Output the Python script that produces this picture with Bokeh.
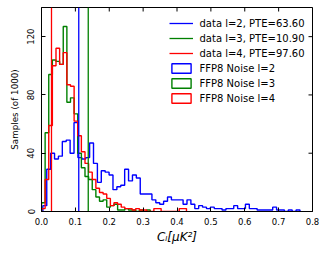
import numpy as np
from bokeh.plotting import figure
from bokeh.models import (Legend, LegendItem, FixedTicker, Range1d, PrintfTickFormatter)
from bokeh.embed import file_html
from bokeh.resources import INLINE

# ---------------- data ----------------
multipoles = [2, 3, 4]
pte_values = ["63.60", "10.90", "97.60"]
data_values = [0.110, 0.138, 0.0295]
series_colors = ["#0000ff", "#008000", "#ff0000"]

# FFP8 noise histograms (counts per bin)
l2_bin_start, l2_bin_width = 0.004, 0.0115
l2_counts = [4, 29, 40, 36, 38, 48, 49, 40, 61, 37, 36, 37, 47, 33, 20, 28, 27, 25,
             15, 17, 18, 29, 21, 25, 23, 12, 12, 12, 8, 6, 5, 7, 10, 8, 8, 8, 5, 8,
             5, 2, 4, 3, 2, 3, 2, 2, 1, 2, 2, 4, 2, 2, 5, 2, 2, 1, 1, 1, 1, 3, 1, 1,
             0, 1, 0, 1]

l3_bin_start, l3_bin_width = 0.0, 0.0107
l3_counts = [6, 54, 94, 104, 103, 101, 127, 75, 78, 67, 40, 30, 24, 22, 15, 10, 7, 8,
             3, 4, 5, 1, 1, 2, 1, 1, 0, 1, 0, 1]

l4_bin_start, l4_bin_width = 0.0, 0.0107
l4_counts = [2, 22, 59, 100, 112, 101, 109, 87, 86, 62, 52, 41, 33, 27, 22, 16, 13, 12,
             9, 4, 6, 5, 3, 2, 2, 1, 2, 1, 1, 0, 0, 2, 2, 0, 0, 0, 0, 0, 2, 2]

x_ticks = [0.0, 0.1, 0.2, 0.3, 0.4, 0.5, 0.6, 0.7, 0.8]
y_ticks = [0, 40, 80, 120]
x_limits = (0.0, 0.8)
y_limits = (0, 140)

hists = [(l2_bin_start, l2_bin_width, l2_counts),
         (l3_bin_start, l3_bin_width, l3_counts),
         (l4_bin_start, l4_bin_width, l4_counts)]

FONT = "DejaVu Sans"

p = figure(width=327, height=253, output_backend="svg", toolbar_location=None,
           x_range=Range1d(*x_limits), y_range=Range1d(*y_limits),
           min_border_left=41, min_border_right=15, min_border_top=7,
           min_border_bottom=42)
p.grid.visible = False
p.outline_line_color = "black"
p.outline_line_width = 1
p.background_fill_color = "white"
p.border_fill_color = "white"

for ax in (p.xaxis[0], p.yaxis[0]):
    ax.major_tick_in = 4
    ax.major_tick_out = 0
    ax.minor_tick_line_color = None
    ax.minor_tick_out = 0
    ax.axis_line_color = "black"
    ax.major_tick_line_color = "black"
    ax.major_label_text_font = FONT
    ax.major_label_text_font_size = "8.5px"
    ax.major_label_text_color = "black"
    ax.axis_label_text_font = FONT
    ax.axis_label_text_color = "black"

p.xaxis.ticker = FixedTicker(ticks=x_ticks)
p.xaxis.formatter = PrintfTickFormatter(format="%.1f")
p.xaxis.major_label_standoff = 6
p.xaxis.axis_label = "C\u2097[\u03bcK\u00b2]"
p.xaxis.axis_label_text_font_style = "italic"
p.xaxis.axis_label_text_font_size = "12px"
p.xaxis.axis_label_standoff = 2

p.yaxis.ticker = FixedTicker(ticks=y_ticks)
p.yaxis.major_label_orientation = "vertical"
p.yaxis.major_label_standoff = 7
p.yaxis.axis_label = "Samples (of 1000)"
p.yaxis.axis_label_text_font_style = "normal"
p.yaxis.axis_label_text_font_size = "8.75px"
p.yaxis.axis_label_standoff = 5

# inward ticks on the top and right frame edges (dash markers clipped by the frame)
p.scatter(x=x_ticks, y=[y_limits[1]] * len(x_ticks), marker="dash", size=8,
          angle=np.pi / 2, line_color="black", line_width=1)
p.scatter(x=[x_limits[1]] * len(y_ticks), y=y_ticks, marker="dash", size=8,
          line_color="black", line_width=1)

# histograms as step outlines
hist_renderers = []
for (start, width, counts), color in zip(hists, series_colors):
    counts = np.asarray(counts, dtype=float)
    edges = start + width * np.arange(len(counts) + 1)
    xs = np.repeat(edges, 2)
    ys = np.concatenate([[0.0], np.repeat(counts, 2), [0.0]])
    p.line(xs, ys, line_color=color, line_width=1.4)
    # bar renderer (hidden) that provides the rectangle legend swatch
    q = p.quad(left=edges[:-1], right=edges[1:], top=counts, bottom=0,
               fill_color=None, line_color=color, line_width=1.4)
    q.visible = False
    hist_renderers.append(q)

# data values as vertical lines
data_renderers = []
for v, color in zip(data_values, series_colors):
    r = p.segment(x0=[v], y0=[y_limits[0]], x1=[v], y1=[y_limits[1]],
                  line_color=color, line_width=1.3)
    data_renderers.append(r)

items = []
for l, pte, r in zip(multipoles, pte_values, data_renderers):
    items.append(LegendItem(label=f"data l={l}, PTE={pte}", renderers=[r]))
for l, q in zip(multipoles, hist_renderers):
    items.append(LegendItem(label=f"FFP8 Noise l={l}", renderers=[q]))

legend = Legend(items=items, location=(127.5, 107),
                padding=0, margin=0, spacing=3, glyph_width=24, glyph_height=12,
                label_height=12, label_standoff=7, label_text_font=FONT,
                label_text_font_size="10px", label_text_color="black",
                background_fill_alpha=0, border_line_color=None)
p.add_layout(legend)

open("out.html", "w").write(file_html(p, INLINE))
